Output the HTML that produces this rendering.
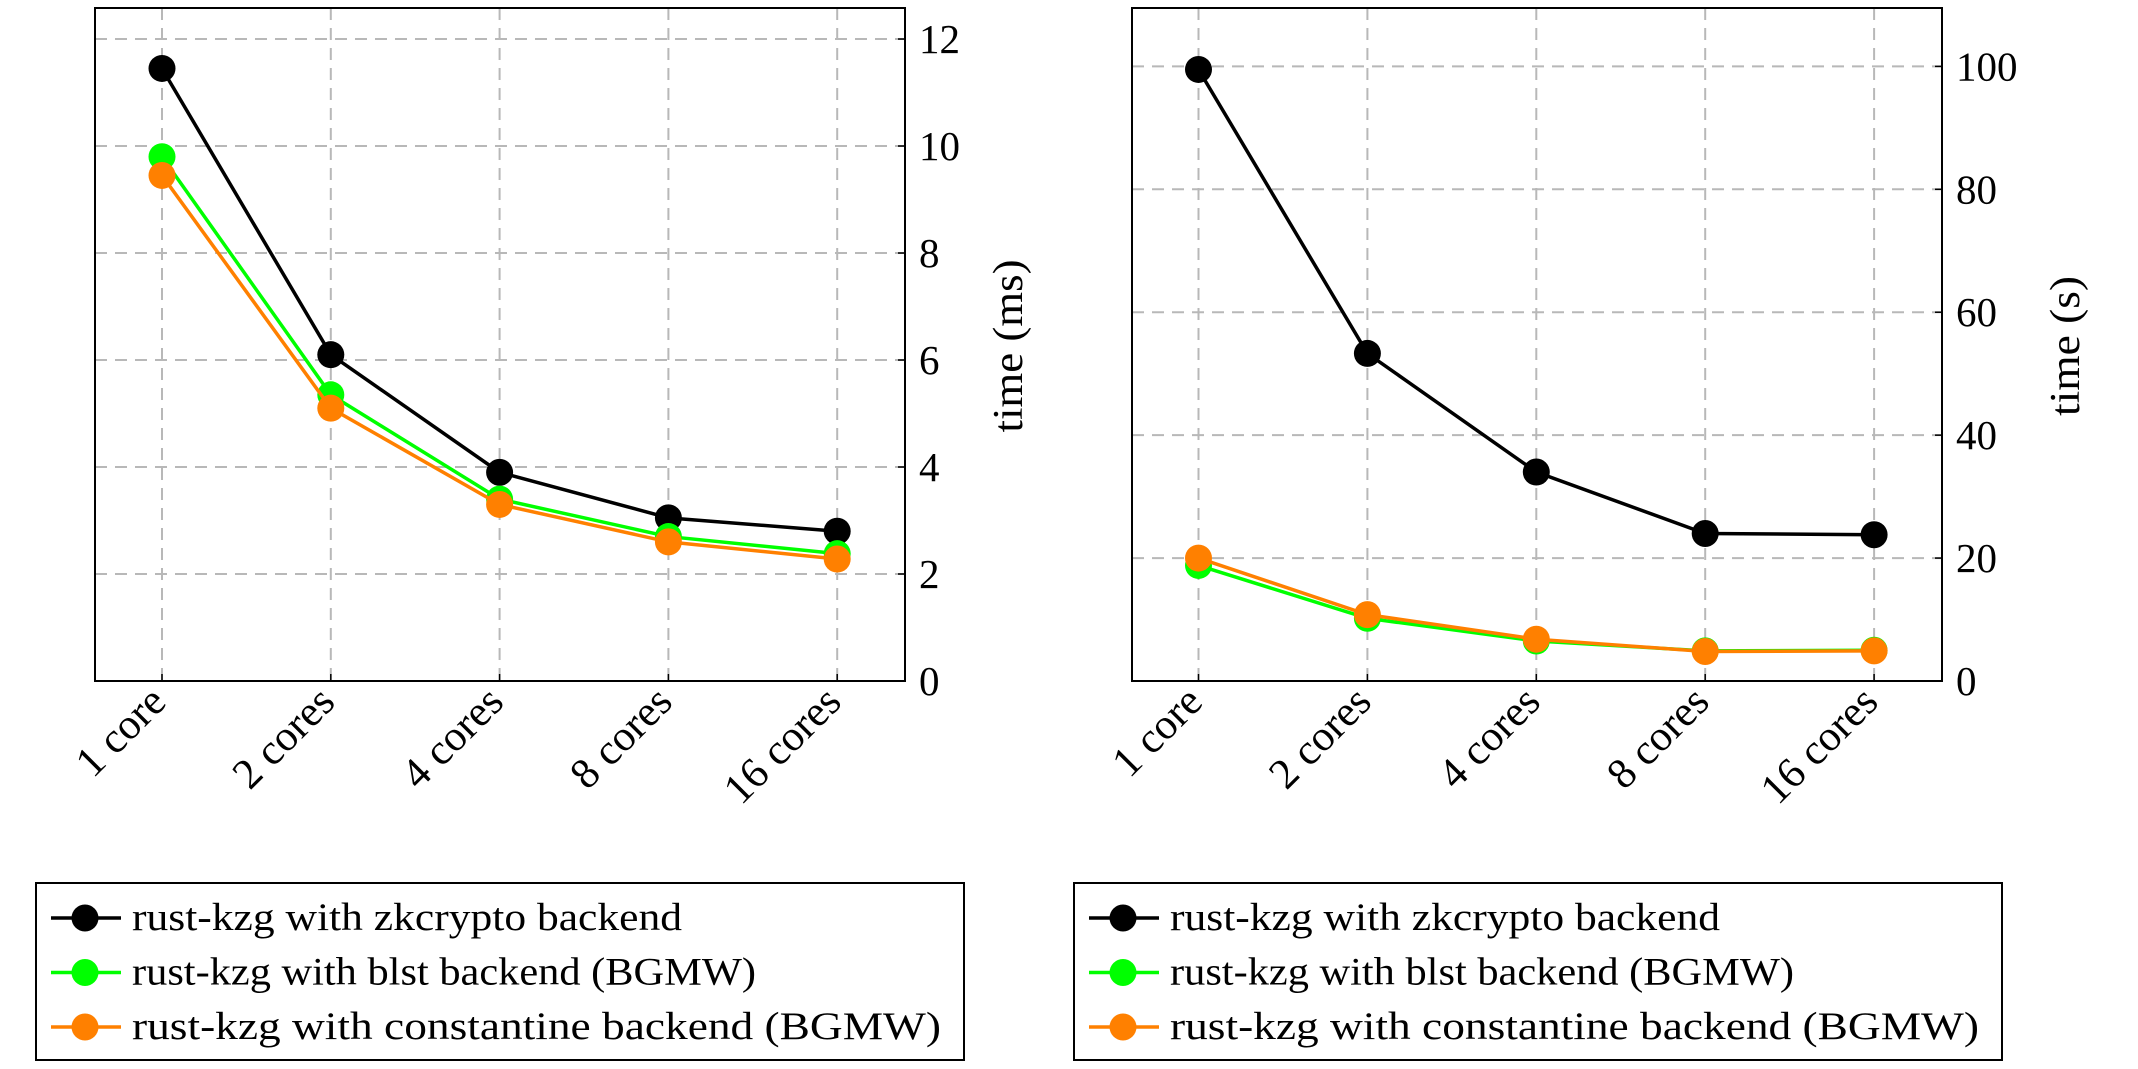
<!DOCTYPE html>
<html><head><meta charset="utf-8"><style>
html,body{margin:0;padding:0;background:#fff;}
svg{display:block;font-family:"Liberation Serif",serif;}
</style></head><body>
<svg id="chart" width="2138" height="1069" viewBox="0 0 2138 1069" xmlns="http://www.w3.org/2000/svg"></svg>
<script>
const categories = ["1 core","2 cores","4 cores","8 cores","16 cores"];
const seriesNames = ["rust-kzg with zkcrypto backend","rust-kzg with blst backend (BGMW)","rust-kzg with constantine backend (BGMW)"];
const seriesColors = ["#000000","#00ff00","#ff8000"];
const leftZk = [11.45, 6.1, 3.9, 3.05, 2.8];
const leftBlst = [9.8, 5.35, 3.4, 2.7, 2.38];
const leftConst = [9.45, 5.1, 3.3, 2.6, 2.28];
const rightZk = [99.5, 53.3, 34.0, 24.0, 23.8];
const rightBlst = [18.8, 10.2, 6.5, 4.9, 5.0];
const rightConst = [20.0, 10.8, 6.8, 4.8, 4.9];
const leftTicks = [0, 2, 4, 6, 8, 10, 12];
const rightTicks = [0, 20, 40, 60, 80, 100];

const NS = "http://www.w3.org/2000/svg";
const svg = document.getElementById('chart');
function mk(tag, attrs, parent){
  const e = document.createElementNS(NS, tag);
  for (const k in attrs) e.setAttribute(k, attrs[k]);
  (parent||svg).appendChild(e);
  return e;
}

function drawPlot(cfg){
  const g = mk('g', {});
  
  
  const {x0, x1, y0, y1, ymax} = cfg;
  const xPos = i => cfg.xFirst + i * cfg.xStep;
  const yPos = v => y1 - (v / ymax) * (y1 - y0);
  categories.forEach((c, i) => {
    const l = mk('line', {x1: xPos(i), x2: xPos(i), y1: y0, y2: y1, stroke: '#b8b8b8', 'stroke-width': 2, 'stroke-dasharray': '12 8'}, g);
    
    
  });
  cfg.ticks.forEach(t => {
    if (t === 0) return;
    const l = mk('line', {x1: x0, x2: x1, y1: yPos(t), y2: yPos(t), stroke: '#b8b8b8', 'stroke-width': 2, 'stroke-dasharray': '12 8'}, g);
    
    
  });
  const f = mk('rect', {x: x0, y: y0, width: x1 - x0, height: y1 - y0, fill: 'none', stroke: '#000', 'stroke-width': 2}, g);
  
  
  cfg.ticks.forEach(t => {
    const y = yPos(t);
    mk('line', {x1: x1 - 7, x2: x1, y1: y, y2: y, stroke: '#000', 'stroke-width': 1.5}, g);
    const tx = mk('text', {x: x1 + 14, y: y + 14, 'font-size': 41}, g);
    tx.textContent = t;
    
    
  });
  categories.forEach((c, i) => {
    const x = xPos(i);
    mk('line', {x1: x, x2: x, y1: y1 - 7, y2: y1, stroke: '#000', 'stroke-width': 1.5}, g);
    const tx = mk('text', {x: x + 6, y: 704, 'font-size': 43, 'text-anchor': 'end', transform: `rotate(-45 ${x + 6} 704)`}, g);
    tx.textContent = c;
    
    
  });
  const cy0 = 346;
  const yt = mk('text', {x: cfg.titleX, y: cy0, 'font-size': 42, 'text-anchor': 'middle', textLength: cfg.titleLen, lengthAdjust: 'spacingAndGlyphs', transform: `rotate(-90 ${cfg.titleX} ${cy0})`}, g);
  yt.textContent = cfg.title;
  
  
  cfg.series.forEach((vals, si) => {
    const pts = vals.map((v, i) => xPos(i) + ',' + yPos(v)).join(' ');
    const pl = mk('polyline', {points: pts, fill: 'none', stroke: seriesColors[si], 'stroke-width': 3.5}, g);
    
    
    vals.forEach((v, i) => {
      const c = mk('circle', {cx: xPos(i), cy: yPos(v), r: 13.5, fill: seriesColors[si]}, g);
      
      
    });
  });
  const lg = mk('g', {});
  
  
  const lx = cfg.legendX;
  mk('rect', {x: lx, y: 883, width: 928, height: 177, fill: '#fff', stroke: '#000', 'stroke-width': 2}, lg);
  seriesNames.forEach((n, si) => {
    const cy = 918 + si * 54.5;
    const e = mk('g', {}, lg);
    
    
    mk('line', {x1: lx + 15, x2: lx + 85, y1: cy, y2: cy, stroke: seriesColors[si], 'stroke-width': 3.5}, e);
    mk('circle', {cx: lx + 49, cy: cy, r: 13.5, fill: seriesColors[si]}, e);
    const widths = [550, 624, 809];
    const t = mk('text', {x: lx + 96, y: cy + 12, 'font-size': 39, textLength: widths[si], lengthAdjust: 'spacingAndGlyphs'}, e);
    t.textContent = n;
  });
}

drawPlot({name: 'left-plot', x0: 95, x1: 905, y0: 8, y1: 681, ymax: 12.58, xFirst: 162, xStep: 168.8,
  ticks: leftTicks, title: 'time (ms)', titleX: 1022, titleLen: 173, series: [leftZk, leftBlst, leftConst], legendX: 36});
drawPlot({name: 'right-plot', x0: 1132, x1: 1942, y0: 8, y1: 681, ymax: 109.5, xFirst: 1198.5, xStep: 168.9,
  ticks: rightTicks, title: 'time (s)', titleX: 2079, titleLen: 140, series: [rightZk, rightBlst, rightConst], legendX: 1074});
</script>
</body></html>
